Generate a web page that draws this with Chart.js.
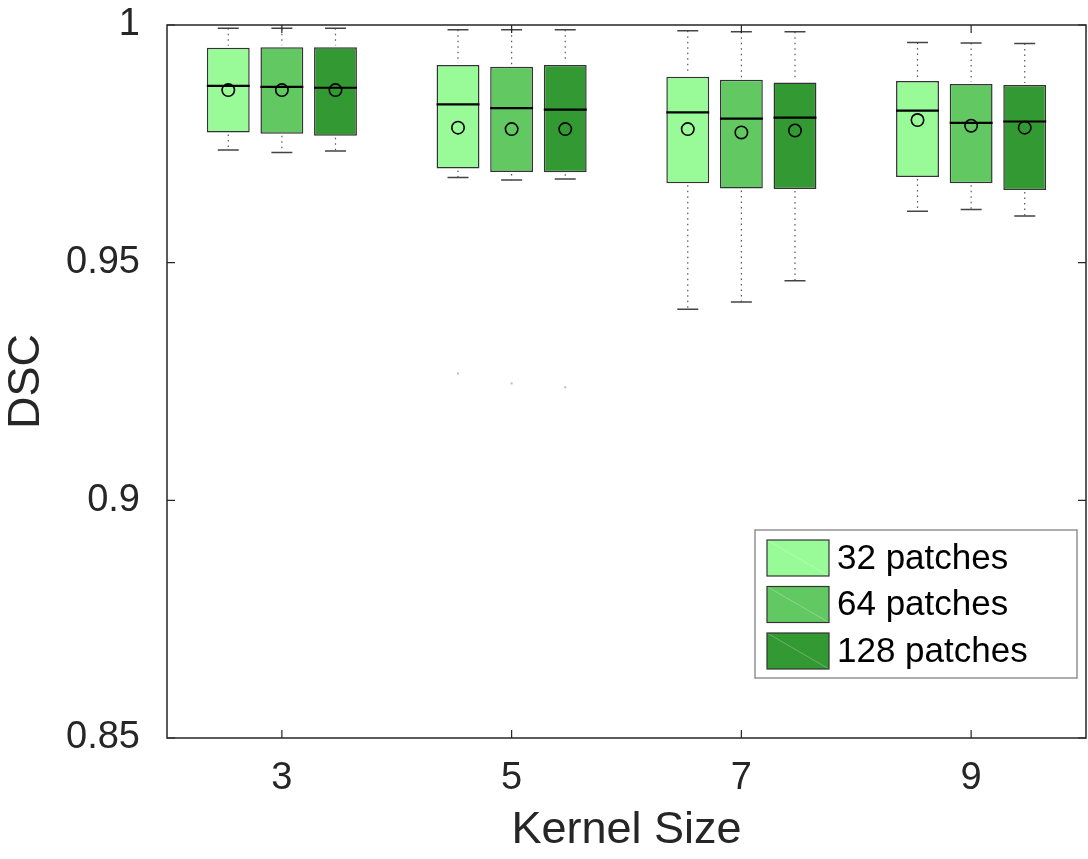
<!DOCTYPE html>
<html>
<head>
<meta charset="utf-8">
<script src="https://cdn.jsdelivr.net/npm/chart.js@4/dist/chart.umd.min.js"></script>
<style>
html, body { margin: 0; padding: 0; background: #fff; }
</style>
</head>
<body>
<canvas id="myChart" width="1088" height="859"></canvas>
<script>
// box plot values
const kernels = ["3", "5", "7", "9"];
const seriesNames = ["32 patches", "64 patches", "128 patches"];
const seriesColors = ["#98FB98", "#62C962", "#339933"];

const low32  = [0.9737, 0.9679, 0.9402, 0.9608];
const q1_32  = [0.9774, 0.9698, 0.9667, 0.9680];
const med32  = [0.9872, 0.9833, 0.9816, 0.9820];
const q3_32  = [0.9952, 0.9916, 0.9891, 0.9882];
const high32 = [0.9993, 0.9990, 0.9988, 0.9963];
const mean32 = [0.9863, 0.9784, 0.9781, 0.9800];
const out32  = [null, 0.9267, null, null];

const low64  = [0.9732, 0.9674, 0.9417, 0.9612];
const q1_64  = [0.9771, 0.9691, 0.9656, 0.9667];
const med64  = [0.9870, 0.9825, 0.9803, 0.9794];
const q3_64  = [0.9953, 0.9912, 0.9885, 0.9876];
const high64 = [0.9993, 0.9990, 0.9986, 0.9962];
const mean64 = [0.9863, 0.9781, 0.9774, 0.9788];
const out64  = [null, 0.9246, null, null];

const low128  = [0.9735, 0.9676, 0.9462, 0.9598];
const q1_128  = [0.9767, 0.9690, 0.9655, 0.9653];
const med128  = [0.9868, 0.9822, 0.9805, 0.9797];
const q3_128  = [0.9953, 0.9916, 0.9879, 0.9874];
const high128 = [0.9993, 0.9990, 0.9986, 0.9961];
const mean128 = [0.9863, 0.9781, 0.9778, 0.9784];
const out128  = [null, 0.9238, null, null];

const yTicks = [0.85, 0.9, 0.95, 1];

const stats = [
    { low: low32, q1: q1_32, med: med32, q3: q3_32, high: high32, mean: mean32, out: out32 },
    { low: low64, q1: q1_64, med: med64, q3: q3_64, high: high64, mean: mean64, out: out64 },
    { low: low128, q1: q1_128, med: med128, q3: q3_128, high: high128, mean: mean128, out: out128 },
];

const textColor = "#262626";
const fontFamily = "'Liberation Sans', Arial, sans-serif";

// whiskers, medians, means, outliers, frame and legend
const boxExtras = {
    id: "boxExtras",
    afterDatasetsDraw(chart) {
        const c = chart.ctx;
        const y = chart.scales.y;
        const x = chart.scales.x;
        const area = chart.chartArea;
        c.save();
        chart.data.datasets.forEach((ds, d) => {
            const s = stats[d];
            chart.getDatasetMeta(d).data.forEach((bar, i) => {
                const cx = bar.x;
                const w = bar.width;
                const yLow = y.getPixelForValue(s.low[i]);
                const yHigh = y.getPixelForValue(s.high[i]);
                const yQ1 = y.getPixelForValue(s.q1[i]);
                const yQ3 = y.getPixelForValue(s.q3[i]);
                // dotted whiskers
                c.strokeStyle = "#555";
                c.lineWidth = 1.2;
                c.setLineDash([1.5, 4]);
                c.beginPath();
                c.moveTo(cx, yHigh); c.lineTo(cx, yQ3 - 2);
                c.moveTo(cx, yQ1 + 2); c.lineTo(cx, yLow);
                c.stroke();
                c.setLineDash([]);
                // caps
                c.strokeStyle = "#444";
                c.lineWidth = 1.5;
                c.beginPath();
                c.moveTo(cx - 10.5, yHigh); c.lineTo(cx + 10.5, yHigh);
                c.moveTo(cx - 10.5, yLow); c.lineTo(cx + 10.5, yLow);
                c.stroke();
                // median
                const yMed = y.getPixelForValue(s.med[i]);
                c.strokeStyle = "#000";
                c.lineWidth = 2.2;
                c.beginPath();
                c.moveTo(cx - w / 2, yMed); c.lineTo(cx + w / 2, yMed);
                c.stroke();
                // mean
                c.lineWidth = 1.6;
                c.beginPath();
                c.arc(cx, y.getPixelForValue(s.mean[i]), 6.2, 0, Math.PI * 2);
                c.stroke();
                // outlier
                if (s.out[i] !== null) {
                    c.fillStyle = "#bbb";
                    c.fillRect(cx - 1, y.getPixelForValue(s.out[i]) - 1, 2, 2);
                }
            });
        });

        // frame
        c.strokeStyle = textColor;
        c.lineWidth = 1.5;
        c.strokeRect(area.left, area.top, area.right - area.left, area.bottom - area.top);

        // inward ticks on all sides
        c.lineWidth = 1.2;
        c.beginPath();
        y.ticks.forEach((t, i) => {
            const py = y.getPixelForTick(i);
            c.moveTo(area.left, py); c.lineTo(area.left + 8, py);
            c.moveTo(area.right, py); c.lineTo(area.right - 8, py);
        });
        x.ticks.forEach((t, i) => {
            const px = x.getPixelForTick(i);
            c.moveTo(px, area.bottom); c.lineTo(px, area.bottom - 8);
            c.moveTo(px, area.top); c.lineTo(px, area.top + 8);
        });
        c.stroke();

        // legend inside the plot
        const lx = area.right - 331, ly = area.bottom - 208;
        const lw = 322, lh = 148;
        c.fillStyle = "#fff";
        c.fillRect(lx, ly, lw, lh);
        c.strokeStyle = "#777";
        c.lineWidth = 1.2;
        c.strokeRect(lx, ly, lw, lh);
        c.font = "35px " + fontFamily;
        c.textBaseline = "middle";
        c.textAlign = "left";
        seriesNames.forEach((name, k) => {
            const ry = ly + 10 + k * 46.5;
            c.fillStyle = seriesColors[k];
            c.fillRect(lx + 12, ry, 62, 36);
            c.strokeStyle = "rgba(255,255,255,0.25)";
            c.lineWidth = 1;
            c.beginPath();
            c.moveTo(lx + 12, ry); c.lineTo(lx + 74, ry + 36);
            c.stroke();
            c.strokeStyle = "#333";
            c.lineWidth = 1.2;
            c.strokeRect(lx + 12, ry, 62, 36);
            c.fillStyle = "#000";
            c.fillText(name, lx + 82, ry + 19);
        });
        c.restore();
    },
};

const ctx = document.getElementById("myChart").getContext("2d");
const myChart = new Chart(ctx, {
    type: "bar",
    data: {
        labels: kernels,
        datasets: seriesNames.map((name, k) => ({
            label: name,
            data: kernels.map((_, i) => [stats[k].q1[i], stats[k].q3[i]]),
            backgroundColor: seriesColors[k],
            borderColor: "#333",
            borderWidth: 1.5,
            borderSkipped: false,
            categoryPercentage: 0.70,
            barPercentage: 0.80,
        })),
    },
    options: {
        responsive: false,
        animation: false,
        layout: { padding: { top: 25, right: 2, left: 0, bottom: 0 } },
        plugins: {
            legend: { display: false },
            tooltip: { enabled: false },
        },
        scales: {
            x: {
                grid: { display: false, drawTicks: false },
                border: { display: false },
                ticks: {
                    color: textColor,
                    font: { family: fontFamily, size: 38 },
                    padding: 18,
                },
                title: {
                    display: true,
                    text: "Kernel Size",
                    color: textColor,
                    font: { family: fontFamily, size: 45 },
                    padding: { top: 0, bottom: 1 },
                },
                afterFit(s) { s.height = 121; },
            },
            y: {
                min: 0.85,
                max: 1,
                grid: { display: false, drawTicks: false },
                border: { display: false },
                afterBuildTicks(s) { s.ticks = yTicks.map(v => ({ value: v })); },
                ticks: {
                    color: textColor,
                    font: { family: fontFamily, size: 38 },
                    padding: 27,
                    callback: v => String(parseFloat(v.toFixed(2))),
                },
                title: {
                    display: true,
                    text: "DSC",
                    color: textColor,
                    font: { family: fontFamily, size: 45 },
                    padding: { top: 0, bottom: 0 },
                },
                afterFit(s) {
                    s.width = 167;
                    s.paddingTop = 0;
                    s.paddingBottom = 0;
                },
            },
        },
    },
    plugins: [boxExtras],
});
</script>
</body>
</html>
